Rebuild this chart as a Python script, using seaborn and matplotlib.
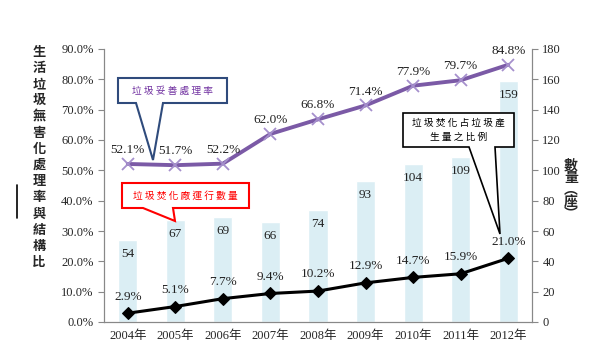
import pandas as pd
import matplotlib.pyplot as plt
import seaborn as sns
from matplotlib.patches import Polygon
from matplotlib.ticker import PercentFormatter

years = ["2004年", "2005年", "2006年", "2007年", "2008年", "2009年", "2010年", "2011年", "2012年"]
plants = [54, 67, 69, 66, 74, 93, 104, 109, 159]
safe_rate = [52.1, 51.7, 52.2, 62.0, 66.8, 71.4, 77.9, 79.7, 84.8]
incin_share = [2.9, 5.1, 7.7, 9.4, 10.2, 12.9, 14.7, 15.9, 21.0]

df = pd.DataFrame({"year": years, "plants": plants,
                   "safe": safe_rate, "share": incin_share})
df["pos"] = range(len(df))

sns.set_style("white")
plt.rcParams["font.family"] = ["Liberation Serif", "Noto Sans CJK TC", "DejaVu Sans"]

W, H = 600, 358
fig = plt.figure(figsize=(6, 3.58), dpi=100)
ax = fig.add_axes([104 / W, 1 - 322 / H, (532 - 104) / W, (322 - 49) / H])
ax2 = ax.twinx()

# bars on the right axis
sns.barplot(data=df, x="pos", y="plants", color="#dbeef4", width=0.4,
            saturation=1, ax=ax2, native_scale=True)
ax2.set_ylim(0, 180)
ax2.set_yticks(range(0, 181, 20))
ax2.set_ylabel("")
for x, v in zip(df["pos"], df["plants"]):
    ax2.annotate(str(v), (x, v), xytext=(0, -10), textcoords="offset points",
                 ha="center", va="center", fontsize=9.5, color="#222222")

# lines on the left axis
sns.lineplot(data=df, x="pos", y="safe", color="#7b5aa6", lw=2.8, marker="x",
             markersize=8, markeredgewidth=1.3, markeredgecolor="#a58fcc", ax=ax)
sns.lineplot(data=df, x="pos", y="share", color="black", lw=2.2, marker="D",
             markersize=6, markeredgecolor="black", ax=ax)
for x, v in zip(df["pos"], df["safe"]):
    ax.annotate(f"{v:.1f}%", (x, v), xytext=(0, 10), textcoords="offset points",
                ha="center", va="center", fontsize=9.5, color="#222222")
for x, v in zip(df["pos"], df["share"]):
    ax.annotate(f"{v:.1f}%", (x, v), xytext=(0, 12), textcoords="offset points",
                ha="center", va="center", fontsize=9.5, color="#222222")

ax.set_zorder(ax2.get_zorder() + 1)
ax.patch.set_visible(False)
ax.set_ylim(0, 90)
ax.set_yticks(range(0, 91, 10))
ax.yaxis.set_major_formatter(PercentFormatter(decimals=1))
ax.set_xlim(-0.5, len(years) - 0.5)
ax.set_xticks(df["pos"])
ax.set_xticklabels(years)
ax.set_xticks([i - 0.5 for i in range(len(years) + 1)], minor=True)
ax.tick_params(axis="x", which="major", length=0, pad=6, labelsize=9)
ax.tick_params(axis="x", which="minor", length=5, color="#888888", width=0.8)
ax.tick_params(axis="y", length=4, color="#888888", width=0.8, labelsize=9)
ax2.tick_params(axis="y", length=4, color="#888888", width=0.8, labelsize=9)
ax.set_xlabel("")
ax.set_ylabel("")

for a in (ax, ax2):
    a.spines["top"].set_visible(False)
    for s in ("left", "right", "bottom"):
        a.spines[s].set_color("#888888")
        a.spines[s].set_linewidth(0.8)
ax2.set_xlim(ax.get_xlim())

# axis titles, stacked vertically
fig.text(39 / W, 1 - 157 / H, "\n".join("生活垃圾無害化處理率與結構比"),
         ha="center", va="center", fontsize=9.5, fontweight="bold",
         family="Noto Sans CJK TC", linespacing=1.2)
fig.add_artist(plt.Line2D([17 / W, 17 / W], [1 - 185 / H, 1 - 218 / H],
                          color="black", lw=1.2))
fig.text(571 / W, 1 - 190 / H, "數\n量\n︵\n座\n︶", ha="center", va="center",
         fontsize=10, fontweight="bold", family="Noto Sans CJK TC",
         linespacing=0.85)


def px(x, y):
    return (x / W, 1 - y / H)


def callout(box, base, tip, edge, text, tcolor, lw):
    x0, y0, x1, y1 = box
    pts = [px(x0, y0), px(x1, y0), px(x1, y1), px(base[1], y1), px(*tip),
           px(base[0], y1), px(x0, y1)]
    fig.add_artist(Polygon(pts, closed=True, facecolor="white",
                           edgecolor=edge, lw=lw, zorder=5))
    fig.text((x0 + x1) / 2 / W, 1 - (y0 + y1) / 2 / H, text, ha="center",
             va="center", fontsize=7, color=tcolor, family="Noto Sans CJK TC",
             linespacing=1.6, zorder=6)


callout((118, 78, 227, 103), (136, 163), (153, 160), "#2f4b7c",
        "垃 圾 妥 善 處 理 率", "#7030a0", 1.5)
callout((122, 183, 249, 208), (143, 173), (175, 221), "#ff0000",
        "垃 圾 焚 化 廠 運 行 數 量", "#ff0000", 1.5)
callout((403, 113, 514, 147), (469, 495), (500, 234), "black",
        "垃 圾 焚 化 占 垃 圾 產\n生 量 之 比 例", "black", 1.2)

fig.savefig("out.png", dpi=100)
